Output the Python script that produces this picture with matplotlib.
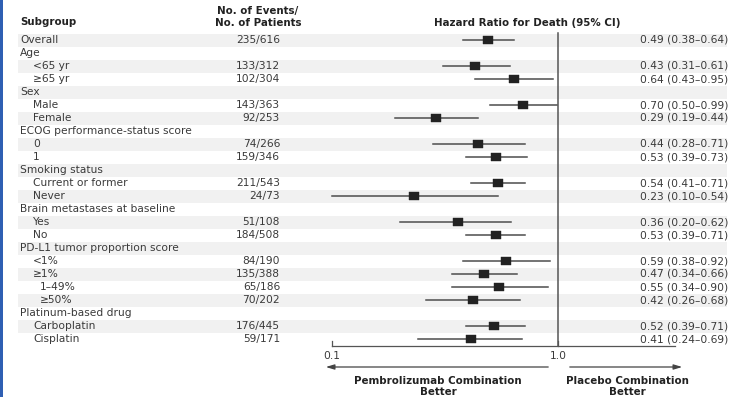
import matplotlib
matplotlib.use("Agg")
import matplotlib.pyplot as plt
import matplotlib.transforms as mtransforms
import numpy as np

# subgroup rows, top to bottom; indent level 0 = heading, 1 = subgroup, 2 = nested
labels = [
    "Overall", "Age", "<65 yr", "\u226565 yr", "Sex", "Male", "Female",
    "ECOG performance-status score", "0", "1", "Smoking status",
    "Current or former", "Never", "Brain metastases at baseline", "Yes", "No",
    "PD-L1 tumor proportion score", "<1%", "\u22651%", "1\u201349%", "\u226550%",
    "Platinum-based drug", "Carboplatin", "Cisplatin",
]
levels = [0, 0, 1, 1, 0, 1, 1, 0, 1, 1, 0, 1, 1, 0, 1, 1, 0, 1, 1, 2, 2, 0, 1, 1]
events = [
    "235/616", "", "133/312", "102/304", "", "143/363", "92/253",
    "", "74/266", "159/346", "", "211/543", "24/73", "", "51/108", "184/508",
    "", "84/190", "135/388", "65/186", "70/202", "", "176/445", "59/171",
]
hr = [0.49, None, 0.43, 0.64, None, 0.70, 0.29, None, 0.44, 0.53, None, 0.54, 0.23,
      None, 0.36, 0.53, None, 0.59, 0.47, 0.55, 0.42, None, 0.52, 0.41]
ci_low = [0.38, None, 0.31, 0.43, None, 0.50, 0.19, None, 0.28, 0.39, None, 0.41, 0.10,
          None, 0.20, 0.39, None, 0.38, 0.34, 0.34, 0.26, None, 0.39, 0.24]
ci_high = [0.64, None, 0.61, 0.95, None, 0.99, 0.44, None, 0.71, 0.73, None, 0.71, 0.54,
           None, 0.62, 0.71, None, 0.92, 0.66, 0.90, 0.68, None, 0.71, 0.69]
x_ticks = [0.1, 1.0]
tick_labels = ["0.1", "1.0"]

W, H = 731, 397
ROW0, ROW_STEP = 40.0, 13.0          # pixel centre of first row, row pitch
X01, DECADE = 331.7, 226.6           # pixel of HR 0.1, pixels per decade

TEXT = "#3a3a3a"
DARK = "#222222"
FS = 7.7      # body text
FSB = 7.4     # bold headers
plt.rcParams["font.family"] = ["DejaVu Sans"]

# wide, flat box for the point estimates
BOX = [(-1, -0.68), (1, -0.68), (1, 0.68), (-1, 0.68), (-1, -0.68)]

fig = plt.figure(figsize=(W / 100, H / 100), dpi=100)
ax = fig.add_axes([0, 0, 1, 1])
ax.set_xscale("log")
ax.set_xlim(10 ** (-1 - X01 / DECADE), 10 ** (-1 + (W - X01) / DECADE))
ax.set_ylim((H - ROW0) / ROW_STEP, -ROW0 / ROW_STEP)
ax.axis("off")


def px(x):
    return x / W


def row_of(ypx):
    return (ypx - ROW0) / ROW_STEP


def hr_of(xpx):
    return 10 ** (-1 + (xpx - X01) / DECADE)


tr = mtransforms.blended_transform_factory(fig.transFigure, ax.transData)

# alternating row shading
for i in range(0, len(labels), 2):
    ax.axhspan(i - 0.5, i + 0.5, xmin=px(18), xmax=px(727), color="#f1f1f1", lw=0, zorder=0)

# left page border
fig.patches.append(plt.Rectangle((0, 0), px(3), 1, transform=fig.transFigure,
                                 color="#2f5fb3", lw=0))

# headers
ax.text(px(20), row_of(22), "Subgroup", transform=tr, fontsize=FSB, fontweight="bold",
        color=DARK, va="center", ha="left")
ax.text(px(258), row_of(11), "No. of Events/", transform=tr, fontsize=FSB,
        fontweight="bold", color=DARK, va="center", ha="center")
ax.text(px(258), row_of(22.5), "No. of Patients", transform=tr, fontsize=FSB,
        fontweight="bold", color=DARK, va="center", ha="center")
ax.text(px(527), row_of(23), "Hazard Ratio for Death (95% CI)", transform=tr,
        fontsize=FSB, fontweight="bold", color=DARK, va="center", ha="center")

indent = {0: 20, 1: 33, 2: 40}
for i, lab in enumerate(labels):
    ax.text(px(indent[levels[i]]), i, lab, transform=tr, fontsize=FS, color=TEXT,
            va="center", ha="left")
    if events[i]:
        ax.text(px(280), i, events[i], transform=tr, fontsize=FS, color=TEXT,
                va="center", ha="right")
    if hr[i] is not None:
        ax.plot([ci_low[i], ci_high[i]], [i, i], color="#4d4d4d", lw=1.1, zorder=2)
        ax.plot(hr[i], i, marker=BOX, ms=7.6, color=DARK, mec=DARK, mew=0.3, zorder=3)
        ax.text(px(728), i, f"{hr[i]:.2f} ({ci_low[i]:.2f}\u2013{ci_high[i]:.2f})",
                transform=tr, fontsize=FS, color=TEXT, va="center", ha="right")

# null line and x axis
axis_y = row_of(345.7)
ax.plot([1.0, 1.0], [row_of(33), axis_y], color="#555555", lw=1.1, zorder=2)
ax.plot([x_ticks[0], hr_of(675)], [axis_y, axis_y], color="#555555", lw=0.9)
for t, lab in zip(x_ticks, tick_labels):
    ax.plot([t, t], [axis_y, row_of(341)], color="#555555", lw=0.9)
    ax.text(t, row_of(356), lab, fontsize=FS, color=TEXT, ha="center", va="center")

# direction arrows
arr_y = row_of(367)
arrow_kw = dict(arrowstyle="-|>,head_length=0.5,head_width=0.15", color="#444444", lw=0.9)
ax.annotate("", xy=(hr_of(323), arr_y), xytext=(hr_of(551), arr_y), arrowprops=arrow_kw)
ax.annotate("", xy=(hr_of(685), arr_y), xytext=(hr_of(567), arr_y), arrowprops=arrow_kw)

ax.text(px(438), row_of(386.5), "Pembrolizumab Combination\nBetter", transform=tr,
        fontsize=FSB, fontweight="bold", color=DARK, ha="center", va="center",
        linespacing=1.1)
ax.text(px(627), row_of(386.5), "Placebo Combination\nBetter", transform=tr,
        fontsize=FSB, fontweight="bold", color=DARK, ha="center", va="center",
        linespacing=1.1)

fig.savefig("out.png", dpi=100, facecolor="white")
